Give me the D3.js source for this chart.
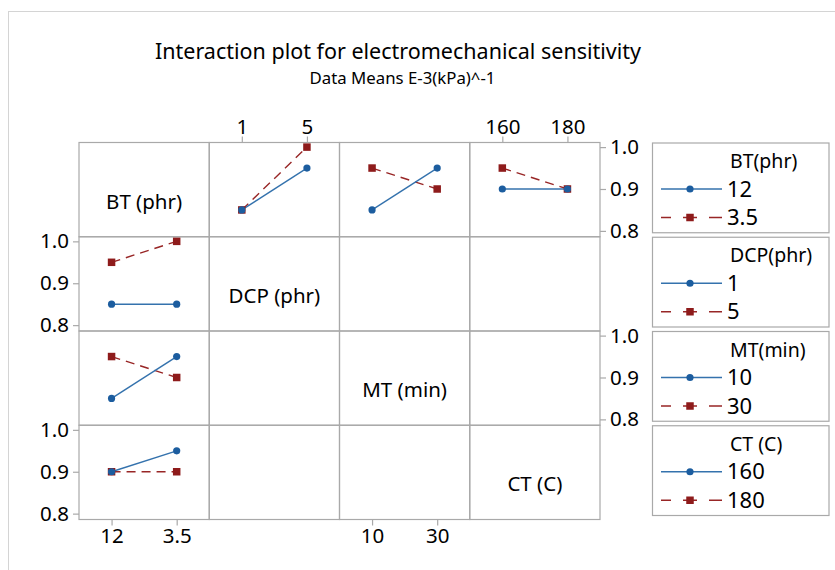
<!DOCTYPE html>
<html>
<head>
<meta charset="utf-8">
<script src="https://cdn.jsdelivr.net/npm/d3@7"></script>
<style>
  body { margin: 0; background: #fff; }
  svg { display: block; }
  text { font-family: "Noto Sans", "Open Sans", sans-serif; fill: #000; }
</style>
</head>
<body>
<svg id="chart" width="835" height="570"></svg>
<script>
// ---------------- DATA ----------------
const factorNames = ["BT (phr)", "DCP (phr)", "MT (min)", "CT (C)"];
const legendTitles = ["BT(phr)", "DCP(phr)", "MT(min)", "CT (C)"];
const levelsBT = ["12", "3.5"];
const levelsDCP = ["1", "5"];
const levelsMT = ["10", "30"];
const levelsCT = ["160", "180"];
const yTickValues = [0.8, 0.9, 1.0];
const yDomain = [0.786, 1.011];

// row = line factor, col = x-axis factor ; [low-level line, high-level line]
const lineBT_xDCP = [[0.85, 0.95], [0.85, 1.00]];
const lineBT_xMT  = [[0.85, 0.95], [0.95, 0.90]];
const lineBT_xCT  = [[0.90, 0.90], [0.95, 0.90]];
const lineDCP_xBT = [[0.85, 0.85], [0.95, 1.00]];
const lineMT_xBT  = [[0.85, 0.95], [0.95, 0.90]];
const lineCT_xBT  = [[0.90, 0.95], [0.90, 0.90]];

const levels = [levelsBT, levelsDCP, levelsMT, levelsCT];
const panels = [
  { row: 0, col: 1, values: lineBT_xDCP },
  { row: 0, col: 2, values: lineBT_xMT },
  { row: 0, col: 3, values: lineBT_xCT },
  { row: 1, col: 0, values: lineDCP_xBT },
  { row: 2, col: 0, values: lineMT_xBT },
  { row: 3, col: 0, values: lineCT_xBT }
];

// ---------------- LAYOUT ----------------
const svg = d3.select("#chart");
const W = 835, H = 570;
const gridLeft = 79, gridRight = 600, gridTop = 142.5, gridBottom = 519.5;
const colW = (gridRight - gridLeft) / 4, rowH = (gridBottom - gridTop) / 4;
const blue = "#1c5d9f", blueLine = "#3472ad", red = "#8e1b1b", redLine = "#982626";
const gridColor = "#a9a9a9";

// outer faint frame
svg.append("rect").attr("x", 8.5).attr("y", 11.5).attr("width", W).attr("height", H)
  .attr("fill", "#fff").attr("stroke", "#d4d4d4");

// titles
svg.append("text").attr("x", 398).attr("y", 59).attr("text-anchor", "middle")
  .style("font-size", "21.5px").text("Interaction plot for electromechanical sensitivity");
svg.append("text").attr("x", 402.5).attr("y", 84).attr("text-anchor", "middle")
  .style("font-size", "16.8px").text("Data Means E-3(kPa)^-1");

const xScales = levels.map((lv, c) => d3.scalePoint().domain(lv)
  .range([gridLeft + c * colW, gridLeft + (c + 1) * colW]).padding(0.5));
const yScales = levels.map((lv, r) => d3.scaleLinear().domain(yDomain)
  .range([gridTop + (r + 1) * rowH, gridTop + r * rowH]));

// panel rectangles
for (let r = 0; r < 4; r++) for (let c = 0; c < 4; c++) {
  svg.append("rect").attr("x", gridLeft + c * colW).attr("y", gridTop + r * rowH)
    .attr("width", colW).attr("height", rowH)
    .attr("fill", "none").attr("stroke", gridColor).attr("stroke-width", 1.2);
}

// diagonal labels
factorNames.forEach((n, i) => {
  svg.append("text").attr("x", gridLeft + (i + 0.5) * colW).attr("y", gridTop + (i + 0.5) * rowH + 19)
    .attr("text-anchor", "middle").style("font-size", "20.5px").text(n);
});

function styleAxis(g) {
  g.select(".domain").remove();
  g.selectAll(".tick line").attr("stroke", gridColor).attr("stroke-width", 1.2);
  g.selectAll(".tick text").style("font-size", "20.5px").attr("fill", "#000")
    .style("font-family", '"Noto Sans", "Open Sans", sans-serif');
}

// x axes: top for cols 1,3 ; bottom for cols 0,2
[1, 3].forEach(c => {
  svg.append("g").attr("transform", `translate(0,${gridTop})`)
    .call(d3.axisTop(xScales[c]).tickSize(6).tickPadding(3)).call(styleAxis);
});
[0, 2].forEach(c => {
  svg.append("g").attr("transform", `translate(0,${gridBottom})`)
    .call(d3.axisBottom(xScales[c]).tickSize(6).tickPadding(3)).call(styleAxis);
});
// y axes: left for rows 1,3 ; right for rows 0,2
[1, 3].forEach(r => {
  svg.append("g").attr("transform", `translate(${gridLeft},0)`)
    .call(d3.axisLeft(yScales[r]).tickValues(yTickValues).tickFormat(d3.format(".1f")).tickSize(6).tickPadding(4))
    .call(styleAxis);
});
[0, 2].forEach(r => {
  svg.append("g").attr("transform", `translate(${gridRight},0)`)
    .call(d3.axisRight(yScales[r]).tickValues(yTickValues).tickFormat(d3.format(".1f")).tickSize(6).tickPadding(4))
    .call(styleAxis);
});

// series
const sq = 7.5;
panels.forEach(p => {
  const xs = xScales[p.col], ys = yScales[p.row], lv = levels[p.col];
  const line = d3.line().x((d, i) => xs(lv[i])).y(d => ys(d));
  const order = [1, 0];
  order.forEach(k => {
    svg.append("path").attr("d", line(p.values[k])).attr("fill", "none")
      .attr("stroke", k === 0 ? blueLine : redLine).attr("stroke-width", 1.4)
      .attr("stroke-dasharray", k === 0 ? null : "9,6");
  });
  order.forEach(k => {
    p.values[k].forEach((v, i) => {
      if (k === 0) {
        svg.append("circle").attr("cx", xs(lv[i])).attr("cy", ys(v)).attr("r", 3.6).attr("fill", blue);
      } else {
        svg.append("rect").attr("x", xs(lv[i]) - sq / 2).attr("y", ys(v) - sq / 2)
          .attr("width", sq).attr("height", sq).attr("fill", red);
      }
    });
  });
});

// legends
const legL = 652.5, legR = 829;
levels.forEach((lv, r) => {
  const top = gridTop + r * rowH + 0.5;
  const bot = gridTop + (r + 1) * rowH - 4;
  const g = svg.append("g");
  g.append("rect").attr("x", legL).attr("y", top).attr("width", legR - legL).attr("height", bot - top)
    .attr("fill", "#fff").attr("stroke", gridColor).attr("stroke-width", 1.2);
  g.append("text").attr("x", 730).attr("y", top + 25).style("font-size", "19.5px").text(legendTitles[r]);
  lv.forEach((name, k) => {
    const y = top + 46 + k * 28.5;
    g.append("line").attr("x1", 661).attr("x2", 722).attr("y1", y).attr("y2", y)
      .attr("stroke", k === 0 ? blueLine : redLine).attr("stroke-width", 1.4)
      .attr("stroke-dasharray", k === 0 ? null : "10,12,14,12,13");
    if (k === 0) g.append("circle").attr("cx", 690).attr("cy", y).attr("r", 3.6).attr("fill", blue);
    else g.append("rect").attr("x", 690 - sq / 2).attr("y", y - sq / 2).attr("width", sq).attr("height", sq).attr("fill", red);
    g.append("text").attr("x", 727).attr("y", y + 7.5).style("font-size", "22px").text(name);
  });
});
</script>
</body>
</html>
